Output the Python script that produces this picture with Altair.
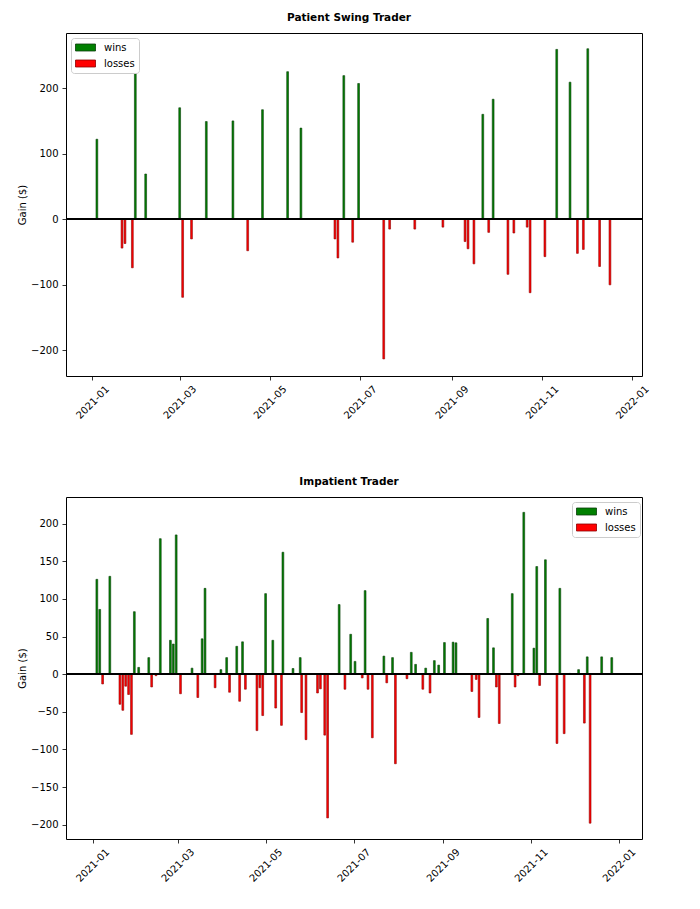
import altair as alt
import pandas as pd

FONT = "DejaVu Sans"

# ---------------- data ----------------
top_dates = ["01-04", "01-21", "01-23", "01-28", "01-30", "02-06", "03-01", "03-03",
             "03-09", "03-19", "04-06", "04-16", "04-26", "05-13", "05-22", "06-14",
             "06-16", "06-20", "06-26", "06-30", "07-17", "07-21", "08-07", "08-26",
             "09-10", "09-12", "09-16", "09-22", "09-26", "09-29", "10-09", "10-13",
             "10-22", "10-24", "11-03", "11-11", "11-20", "11-25", "11-29", "12-02",
             "12-10", "12-17"]
top_gains = [122, -44, -37, -74, 223, 69, 170, -119,
             -30, 149, 150, -48, 167, 225, 139, -30,
             -59, 219, -35, 207, -213, -15, -15, -12,
             -34, -45, -68, 160, -20, 183, -84, -21,
             -12, -112, -57, 259, 209, -52, -46, 260,
             -72, -100]

bot_dates = ["01-04", "01-06", "01-08", "01-13", "01-20", "01-22", "01-24", "01-26",
             "01-28", "01-30", "02-02", "02-09", "02-11", "02-14", "02-17", "02-24",
             "02-26", "02-28", "03-03", "03-11", "03-15", "03-18", "03-20", "03-27",
             "03-31", "04-04", "04-06", "04-11", "04-13", "04-15", "04-17", "04-25",
             "04-27", "04-29", "05-01", "05-06", "05-08", "05-12", "05-13", "05-20",
             "05-25", "05-26", "05-29", "06-06", "06-08", "06-11", "06-13", "06-21",
             "06-25", "06-29", "07-02", "07-07", "07-09", "07-11", "07-14", "07-22",
             "07-24", "07-28", "07-30", "08-07", "08-10", "08-13", "08-18", "08-20",
             "08-23", "08-26", "08-29", "09-02", "09-08", "09-10", "09-21", "09-24",
             "09-26", "10-02", "10-06", "10-08", "10-10", "10-19", "10-21", "10-23",
             "10-27", "11-03", "11-05", "11-07", "11-11", "11-19", "11-21", "11-24",
             "11-28", "12-04", "12-08", "12-10", "12-12", "12-20", "12-27"]
bot_gains = [126, 86, -13, 130, -40, -48, -16, -27,
             -80, 83, 9, 22, -17, -2, 180, 45,
             40, 185, -26, 8, -31, 47, 114, -18,
             6, 22, -24, 37, -36, 43, -20, -75,
             -18, -55, 107, 45, -45, -68, 162, 7.5,
             22, -51, -87, -25, -19.5, -81, -191, 92.5,
             -20, 53, 17, -5, 111, -20, -84.5, 24,
             -11.5, 22, -119, -6, 29, 13, -20, 8,
             -25, 18, 12, 42, 42.5, 41.6, -23, -7,
             -57.5, 74, 35, -17, -65.5, 107, -17, -2,
             215, 34.5, 143, -15, 152, -92, 114, -79,
             1, 6, -65, 23, -198, 23, 22]

kinds = ["wins", "losses"]
fill_colors = ["#008000", "#ff0000"]
edge_colors = ["#0a3d0a", "#8b0000"]


def make_df(dates, gains):
    return pd.DataFrame({
        "date": ["2021-" + d for d in dates],
        "gain": gains,
        "kind": ["wins" if g > 0 else "losses" for g in gains],
    })


def dt(y, m, d, h=0):
    return alt.DateTime(year=y, month=m, date=d, hours=h, utc=True)


x_ticks = [dt(2021, 1, 1), dt(2021, 3, 1), dt(2021, 5, 1), dt(2021, 7, 1),
           dt(2021, 9, 1), dt(2021, 11, 1), dt(2022, 1, 1)]


def panel(df, title, xdomain, ydomain, yticks, legend_x, legend_y, width, height):
    x = alt.X("date:T",
              scale=alt.Scale(type="utc", domain=xdomain),
              axis=alt.Axis(values=x_ticks, format="%Y-%m", title=None,
                            labelAngle=-45, labelAlign="center",
                            labelBaseline="middle", labelPadding=22,
                            grid=False, domain=False))
    y = alt.Y("gain:Q",
              scale=alt.Scale(domain=ydomain, nice=False, zero=False),
              axis=alt.Axis(values=yticks, title="Gain ($)", grid=False,
                            domain=False, labelPadding=4,
                            titleX=-44, titleY=height / 2,
                            titleBaseline="middle", titleAngle=-90,
                            titleFontWeight="normal", titleFontSize=10))
    bars = alt.Chart(df).mark_bar(size=1.8, strokeWidth=0.6).encode(
        x=x,
        y=y,
        fill=alt.Fill("kind:N",
                      scale=alt.Scale(domain=kinds, range=fill_colors),
                      legend=alt.Legend(title=None, orient="none",
                                        legendX=legend_x, legendY=legend_y,
                                        symbolType="M-1,-0.7H3V0.7H-1Z",
                                        symbolSize=100,
                                        symbolStrokeColor="black",
                                        symbolStrokeWidth=0.8,
                                        labelFont=FONT, labelFontSize=10,
                                        labelColor="black",
                                        labelOffset=18, rowPadding=5,
                                        padding=4, fillColor="white",
                                        strokeColor="#cccccc",
                                        cornerRadius=3)),
        stroke=alt.Stroke("kind:N",
                          scale=alt.Scale(domain=kinds, range=edge_colors),
                          legend=None),
    )
    zero = alt.Chart(df).mark_rule(color="black", strokeWidth=0.8).encode(
        y=alt.datum(0)
    )
    return alt.layer(bars, zero).properties(
        width=width, height=height,
        title=alt.TitleParams(title, font=FONT, fontSize=10.5, fontWeight="bold",
                              anchor="middle", baseline="alphabetic",
                              offset=2, dx=-5, color="black"),
    )


top = panel(make_df(top_dates, top_gains), "Patient Swing Trader",
            [dt(2020, 12, 17, 12), dt(2022, 1, 4, 7)],
            [-239, 284], [-200, -100, 0, 100, 200],
            5, 5, 576, 343)
bottom = panel(make_df(bot_dates, bot_gains), "Impatient Trader",
               [dt(2020, 12, 17, 2), dt(2022, 1, 13, 12)],
               [-219, 235.4], [-200, -150, -100, -50, 0, 50, 100, 150, 200],
               506, 5, 576, 342)

chart = alt.vconcat(top, bottom, spacing=55).resolve_scale(
    x="independent", y="independent", fill="independent", stroke="independent"
).resolve_legend(
    fill="independent", stroke="independent"
).properties(
    padding={"left": 8, "top": 4, "right": 5, "bottom": 5}
).configure_view(
    stroke="black", strokeWidth=1
).configure_axis(
    labelFont=FONT, labelFontSize=10, labelColor="black",
    titleFont=FONT, titleColor="black",
    tickColor="black", tickSize=4, tickWidth=0.8,
).configure_legend(
    labelFont=FONT
)

chart.save("out.html", embed_options={"renderer": "svg", "actions": False})
